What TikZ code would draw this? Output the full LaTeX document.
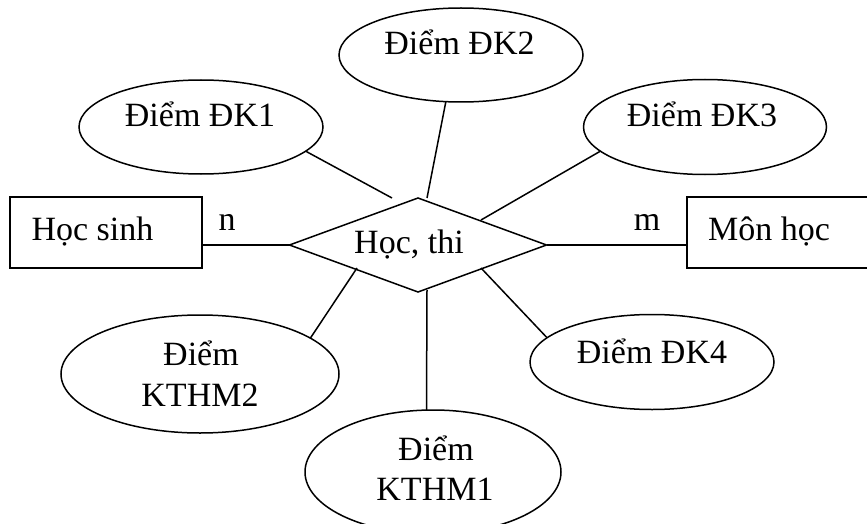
\documentclass[tikz,border=0pt]{standalone}
\usepackage{fontspec}
\setmainfont{Liberation Serif}
\usetikzlibrary{shapes.geometric}
\begin{document}
\begin{tikzpicture}[x=1pt,y=-1pt,
  every node/.style={inner sep=0pt,outer sep=0pt},
  ent/.style={draw,line width=1.5pt,rectangle,minimum height=71pt},
  attr/.style={draw,line width=1.5pt,ellipse},
  rel/.style={draw,line width=1.5pt,diamond,minimum width=257pt,minimum height=94pt},
  lbl/.style={anchor=base,font=\fontsize{34}{41}\selectfont},
  conn/.style={line width=1.5pt}]
\useasboundingbox (0,0) rectangle (867,524);
% relationship
\node[rel] (dia) at (418,245) {};
\node[lbl] (diat) at (409,253) {Học, thi};
% entities
\node[ent,minimum width=192pt] (hs) at (106,232.5) {};
\node[lbl] (hst) at (92.5,240) {Học sinh};
\node[ent,minimum width=184pt] (mh) at (779,232.5) {};
\node[lbl] (mht) at (769,240) {Môn học};
% attributes
\node[attr,minimum width=244pt,minimum height=94pt] (dk1) at (201,127) {};
\node[lbl] (dk1t) at (200,127) {Điểm ĐK1};
\node[attr,minimum width=244pt,minimum height=94pt] (dk2) at (461,55) {};
\node[lbl] (dk2t) at (459.5,55) {Điểm ĐK2};
\node[attr,minimum width=243pt,minimum height=95pt] (dk3) at (705,127) {};
\node[lbl] (dk3t) at (702,127) {Điểm ĐK3};
\node[attr,minimum width=244pt,minimum height=95pt] (dk4) at (652,362) {};
\node[lbl] (dk4t) at (652,363) {Điểm ĐK4};
\node[attr,minimum width=278pt,minimum height=118pt] (kt2) at (200,374) {};
\node[lbl] (kt2a) at (201,365) {Điểm};
\node[lbl] (kt2b) at (200,406) {KTHM2};
\node[attr,minimum width=256pt,minimum height=124pt] (kt1) at (433,472) {};
\node[lbl] (kt1a) at (436,460) {Điểm};
\node[lbl] (kt1b) at (435,500) {KTHM1};
% cardinalities
\node[lbl] (n) at (227,230) {n};
\node[lbl] (m) at (647,230) {m};
% connector end points near the diamond
\coordinate (p1) at (392,198);
\coordinate (p2) at (427,198);
\coordinate (p3) at (481,220);
\coordinate (p4) at (481,268);
\coordinate (p5) at (357,268);
\coordinate (p6) at (427,290);
% connectors
\draw[conn] (hs.east |- dia.west) -- (dia.west);
\draw[conn] (mh.west |- dia.east) -- (dia.east);
\draw[conn] (dk1.-13) -- (p1);
\draw[conn] (dk2.-108) -- (p2);
\draw[conn] (dk3.193) -- (p3);
\draw[conn] (dk4.167) -- (p4);
\draw[conn] (kt2.18) -- (p5);
\draw[conn] (kt1.96) -- (p6);
\end{tikzpicture}
\end{document}
